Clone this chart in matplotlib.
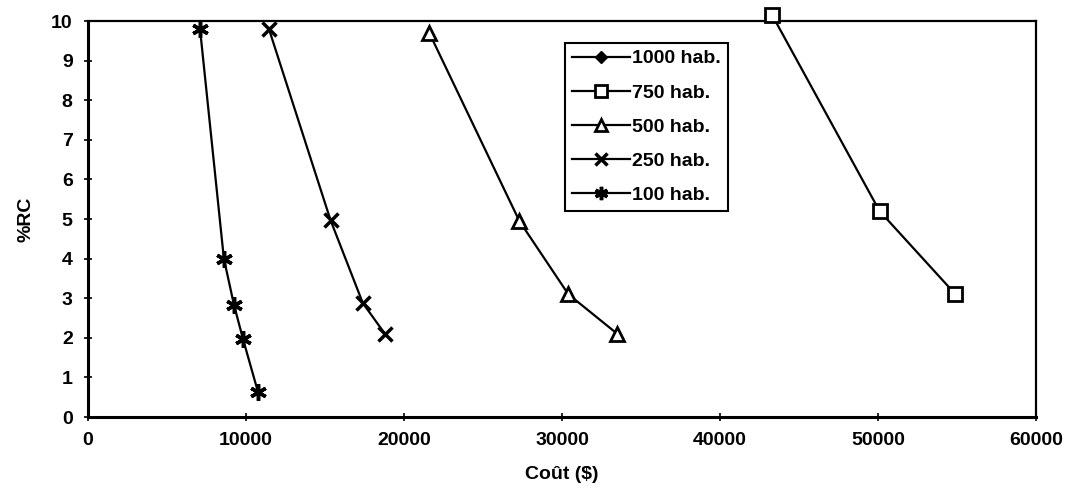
import matplotlib.pyplot as plt

# Coût ($) vs %RC, one series per population size
series_labels = ['1000 hab.', '750 hab.', '500 hab.', '250 hab.', '100 hab.']

cout_1000 = []
rc_1000 = []

cout_750 = [43300, 50100, 54900]
rc_750 = [10.15, 5.2, 3.1]

cout_500 = [21600, 27300, 30400, 33500]
rc_500 = [9.7, 4.95, 3.1, 2.1]

cout_250 = [11450, 15350, 17390, 18790]
rc_250 = [9.8, 4.97, 2.88, 2.1]

cout_100 = [7090, 8600, 9240, 9810, 10760]
rc_100 = [9.8, 4.0, 2.83, 1.97, 0.63]

x_ticks = [0, 10000, 20000, 30000, 40000, 50000, 60000]
y_ticks = list(range(0, 11))

plt.rcParams['font.family'] = ['Liberation Sans', 'DejaVu Sans']
plt.rcParams['font.weight'] = 'bold'
plt.rcParams['font.size'] = 14

fig = plt.figure(figsize=(10.67, 4.93), dpi=100)
ax = fig.add_axes([88 / 1067, 1 - 417 / 493, (1036 - 88) / 1067, (417 - 21) / 493])

lw = 1.6
common = dict(color='black', lw=lw, clip_on=False, zorder=3)
ax.plot(cout_1000, rc_1000, marker='D', ms=8, mfc='black', mec='black',
        label=series_labels[0], **common)
ax.plot(cout_750, rc_750, marker='s', ms=10, mfc='white', mec='black', mew=2,
        label=series_labels[1], **common)
ax.plot(cout_500, rc_500, marker='^', ms=10, mfc='white', mec='black', mew=2,
        label=series_labels[2], **common)
ax.plot(cout_250, rc_250, marker='x', ms=10, mec='black', mew=2.5,
        label=series_labels[3], **common)
ax.plot(cout_100, rc_100, marker=(6, 2, 0), ms=12, mec='black', mew=2.5,
        label=series_labels[4], **common)

ax.set_xlim(0, 60000)
ax.set_ylim(0, 10)
ax.set_xticks(x_ticks)
ax.set_yticks(y_ticks)
ax.tick_params(direction='inout', length=6, width=1.2, pad=8)

for side in ['left', 'bottom']:
    ax.spines[side].set_linewidth(2.2)
for side in ['top', 'right']:
    ax.spines[side].set_linewidth(1.6)

ax.set_xlabel('Coût ($)', fontweight='bold', labelpad=12)
ax.set_ylabel('%RC', fontweight='bold', labelpad=12)

leg = fig.legend(loc='upper left', bbox_to_anchor=(565 / 1067, 1 - 43 / 493),
                 frameon=True, fancybox=False, edgecolor='black', framealpha=1,
                 handlelength=3, handletextpad=0.1, labelspacing=0.85,
                 borderpad=0.35, borderaxespad=0, markerscale=0.8)
leg.get_frame().set_linewidth(1.5)

fig.savefig('out.png', dpi=100)
